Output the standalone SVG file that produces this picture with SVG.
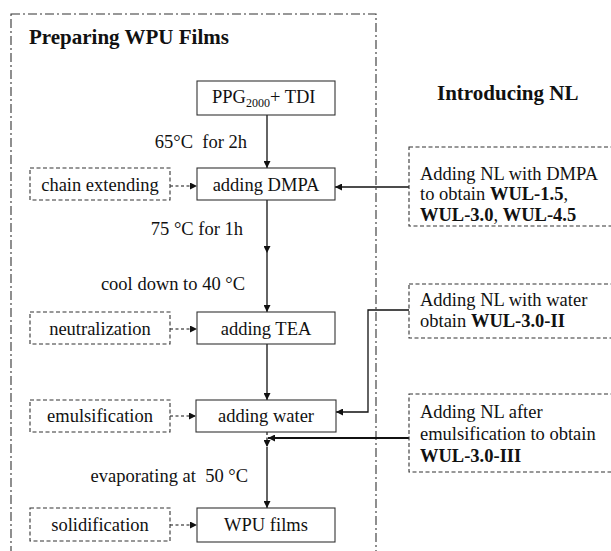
<svg xmlns="http://www.w3.org/2000/svg" width="611" height="551" viewBox="0 0 611 551" font-family="'Liberation Serif', 'Times New Roman', Times, 'DejaVu Serif', serif">
  <style>
    text { font-family: 'Liberation Serif', 'Times New Roman', Times, 'DejaVu Serif', serif; font-size: 18.5px; fill: #111; }
    .title { font-weight: bold; font-size: 21px; }
    .mid { text-anchor: middle; }
    .end { text-anchor: end; }
    .b { font-weight: bold; }
    .box { fill: #fff; stroke: #333; stroke-width: 1.1; }
    .dbox { fill: none; stroke: #333; stroke-width: 1.1; stroke-dasharray: 4 2.5; }
    .frame { fill: none; stroke: #333; stroke-width: 1.1; stroke-dasharray: 9 3 2 3; }
    .line { fill: none; stroke: #111; stroke-width: 1.3; }
    .thick { fill: none; stroke: #111; stroke-width: 2; }
    .dline { fill: none; stroke: #111; stroke-width: 1.2; stroke-dasharray: 3 2.5; }
  </style>
  <defs>
    <marker id="ah" viewBox="0 0 10 10" refX="10" refY="5" markerWidth="7" markerHeight="7" markerUnits="userSpaceOnUse" orient="auto">
      <path d="M0,0 L10,5 L0,10 z" fill="#111"/>
    </marker>
  </defs>

  <!-- outer dash-dot frame for the WPU film preparation stage -->
  <rect class="frame" x="11" y="14" width="365" height="560"/>
  <text class="title" x="29" y="44">Preparing WPU Films</text>
  <text class="title" x="437" y="100">Introducing NL</text>

  <!-- connectors -->
  <g id="connectors">
    <line class="line" x1="267" y1="115" x2="267" y2="168" marker-end="url(#ah)"/>
    <line class="line" x1="267" y1="200" x2="267" y2="253" marker-end="url(#ah)"/>
    <line class="line" x1="267" y1="253" x2="267" y2="312" marker-end="url(#ah)"/>
    <line class="line" x1="267" y1="344" x2="267" y2="400" marker-end="url(#ah)"/>
    <line class="dline" x1="267" y1="432" x2="267" y2="447" marker-end="url(#ah)"/>
    <line class="line" x1="267" y1="447" x2="267" y2="508" marker-end="url(#ah)"/>

    <line class="dline" x1="170" y1="186" x2="197" y2="186" marker-end="url(#ah)"/>
    <line class="dline" x1="170" y1="329" x2="197" y2="329" marker-end="url(#ah)"/>
    <line class="dline" x1="170" y1="416" x2="196" y2="416" marker-end="url(#ah)"/>
    <line class="dline" x1="170" y1="525" x2="197" y2="525" marker-end="url(#ah)"/>

    <line class="line" x1="409" y1="187" x2="335" y2="187" marker-end="url(#ah)"/>
    <path class="line" d="M409,310 H368 V412 H336" marker-end="url(#ah)"/>
    <line class="thick" x1="409" y1="438" x2="268" y2="438" marker-end="url(#ah)"/>
  </g>

  <text class="end" x="247" y="148" xml:space="preserve">65°C  for 2h</text>
  <text class="end" x="243" y="235">75 °C for 1h</text>
  <text class="end" x="245" y="290">cool down to 40 °C</text>
  <text class="end" x="248" y="482" xml:space="preserve">evaporating at  50 °C</text>

  <!-- main process steps -->
  <g id="ppg-tdi">
    <rect class="box" x="197" y="81" width="138" height="34"/>
    <text x="212" y="103">PPG<tspan font-size="12" dy="4">2000</tspan><tspan dy="-4">+ TDI</tspan></text>
  </g>
  <g id="adding-dmpa">
    <rect class="box" x="197" y="168" width="138" height="32"/>
    <text class="mid" x="266" y="191">adding DMPA</text>
  </g>
  <g id="adding-tea">
    <rect class="box" x="197" y="312" width="138" height="32"/>
    <text class="mid" x="266" y="335">adding TEA</text>
  </g>
  <g id="adding-water">
    <rect class="box" x="196" y="400" width="140" height="32"/>
    <text class="mid" x="266" y="422">adding water</text>
  </g>
  <g id="wpu-films">
    <rect class="box" x="197" y="508" width="138" height="34"/>
    <text class="mid" x="266" y="531">WPU films</text>
  </g>

  <!-- stage labels -->
  <g id="chain-extending">
    <rect class="dbox" x="30" y="168" width="140" height="32"/>
    <text class="mid" x="100" y="191">chain extending</text>
  </g>
  <g id="neutralization">
    <rect class="dbox" x="30" y="312" width="140" height="32"/>
    <text class="mid" x="100" y="335">neutralization</text>
  </g>
  <g id="emulsification">
    <rect class="dbox" x="30" y="400" width="140" height="32"/>
    <text class="mid" x="100" y="422">emulsification</text>
  </g>
  <g id="solidification">
    <rect class="dbox" x="30" y="508" width="140" height="33"/>
    <text class="mid" x="100" y="531">solidification</text>
  </g>

  <!-- NL introduction routes -->
  <g id="nl-dmpa">
    <rect class="dbox" x="409" y="147" width="215" height="79"/>
    <text x="420" y="180">Adding NL with DMPA</text>
    <text x="420" y="200">to obtain <tspan class="b">WUL-1.5</tspan>,</text>
    <text x="420" y="221"><tspan class="b">WUL-3.0</tspan>, <tspan class="b">WUL-4.5</tspan></text>
  </g>
  <g id="nl-water">
    <rect class="dbox" x="409" y="284" width="215" height="54"/>
    <text x="420" y="306">Adding NL with water</text>
    <text x="420" y="327">obtain <tspan class="b">WUL-3.0-II</tspan></text>
  </g>
  <g id="nl-after">
    <rect class="dbox" x="409" y="394" width="215" height="78"/>
    <text x="420" y="418">Adding NL after</text>
    <text x="420" y="440">emulsification to obtain</text>
    <text x="420" y="462" class="b">WUL-3.0-III</text>
  </g>
</svg>
